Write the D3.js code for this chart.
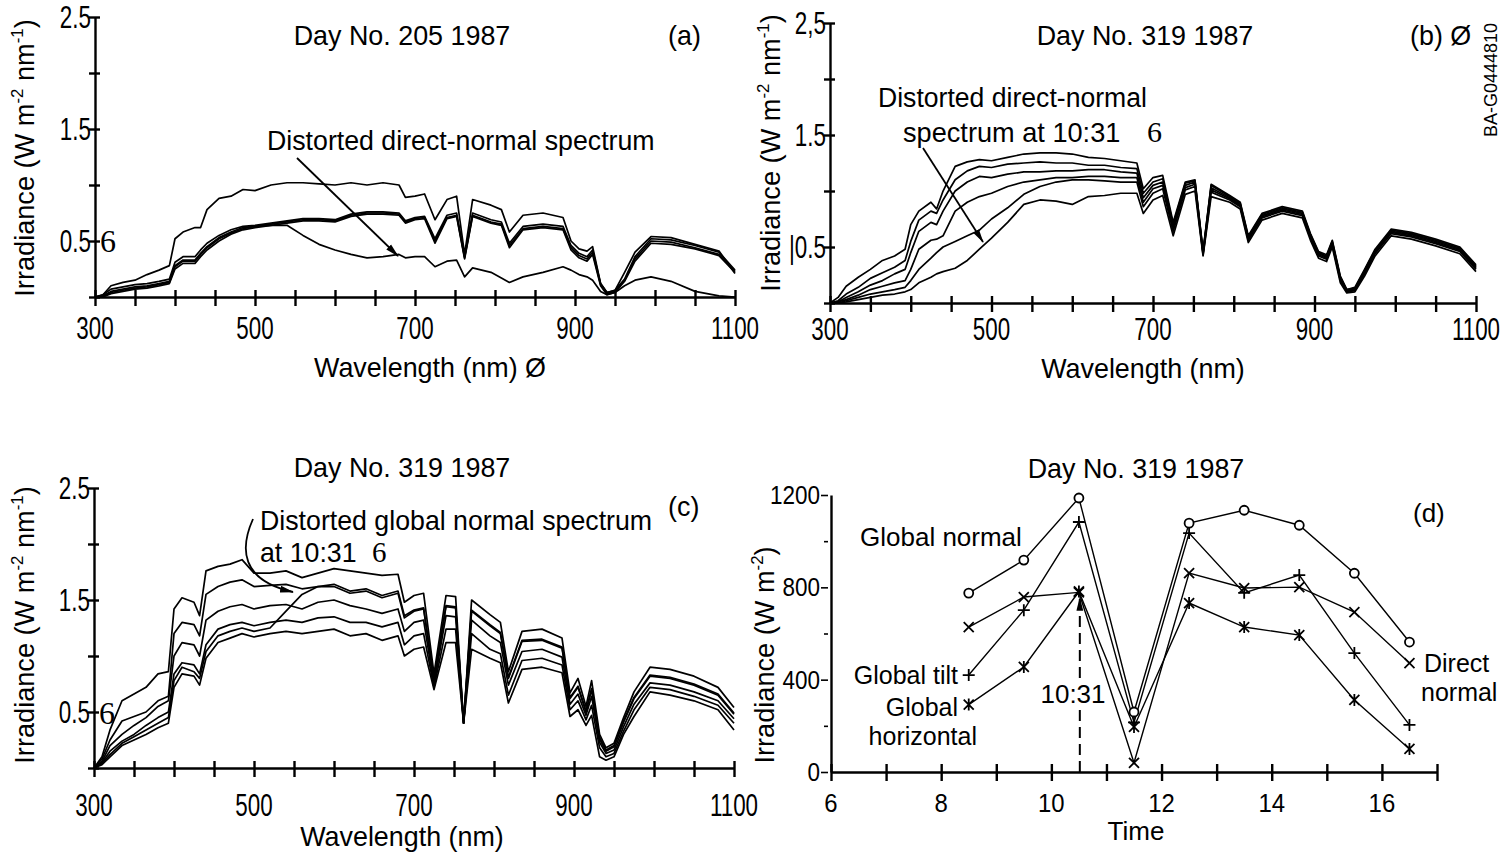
<!DOCTYPE html>
<html>
<head>
<meta charset="utf-8">
<script src="https://cdn.jsdelivr.net/npm/d3@7"></script>
<style>
  html, body { margin: 0; padding: 0; background: #fff; }
  svg { display: block; }
  text { fill: #000; }
</style>
</head>
<body>
<svg id="fig" width="1502" height="854"></svg>
<script>
// wavelength grid (nm) shared by the three spectrum panels
const wl = [300,310,320,335,350, 365,380,393,400,410, 425,432,440,455,470, 485,500,520,540,560,
            580,600,620,640,660, 680,688,700,712,725, 740,752,762,772,795, 808,818,835,860,885,
            895,905,915,922,932, 940,950,962,975,995, 1020,1050,1080,1100];

// (a) day 205 -- top curve, bundle of three, distorted direct-normal
const a205Top = [0,0.02,0.1,0.13,0.15, 0.2,0.24,0.28,0.52,0.58, 0.62,0.62,0.78,0.88,0.9, 0.96,0.95,1.0,1.02,1.02,
                 1.01,1.0,1.02,1.0,1.02, 1.0,0.89,0.9,0.92,0.69, 0.87,0.9,0.38,0.87,0.82, 0.78,0.58,0.73,0.75,0.71,
                 0.5,0.43,0.41,0.45,0.12, 0.04,0.06,0.22,0.4,0.54, 0.53,0.47,0.41,0.21];
const a205Mid1 = [0,0,0.03,0.05,0.07, 0.08,0.1,0.12,0.25,0.3, 0.3,0.36,0.42,0.5,0.56, 0.6,0.62,0.64,0.66,0.68,
                  0.68,0.67,0.72,0.74,0.74, 0.73,0.66,0.69,0.7,0.48, 0.7,0.72,0.34,0.72,0.66, 0.64,0.44,0.6,0.62,0.6,
                  0.42,0.35,0.32,0.38,0.1, 0.02,0.04,0.14,0.32,0.48, 0.47,0.43,0.37,0.22];
const a205Mid2 = [0,0.01,0.05,0.07,0.09, 0.1,0.12,0.14,0.28,0.33, 0.33,0.39,0.45,0.53,0.58, 0.62,0.63,0.65,0.67,0.69,
                  0.69,0.68,0.73,0.75,0.75, 0.74,0.67,0.7,0.71,0.5, 0.71,0.73,0.35,0.73,0.67, 0.65,0.46,0.61,0.63,0.61,
                  0.44,0.37,0.34,0.4,0.11, 0.03,0.05,0.15,0.34,0.5, 0.49,0.44,0.38,0.23];
const a205Mid3 = [0,0.02,0.07,0.09,0.11, 0.12,0.14,0.16,0.31,0.36, 0.36,0.42,0.48,0.55,0.6, 0.63,0.64,0.66,0.68,0.7,
                  0.7,0.69,0.74,0.76,0.76, 0.75,0.68,0.71,0.72,0.52, 0.73,0.75,0.36,0.75,0.69, 0.67,0.48,0.63,0.65,0.63,
                  0.46,0.39,0.36,0.42,0.12, 0.04,0.06,0.16,0.36,0.52, 0.51,0.46,0.4,0.24];
const a205Distorted = [0,0.01,0.04,0.06,0.08, 0.09,0.11,0.13,0.27,0.32, 0.32,0.38,0.44,0.52,0.57, 0.61,0.63,0.64,0.64,0.55,
                       0.47,0.42,0.38,0.35,0.36, 0.38,0.35,0.36,0.36,0.27, 0.32,0.33,0.18,0.26,0.22, 0.17,0.13,0.18,0.22,0.27,
                       0.24,0.2,0.18,0.15,0.05, 0.02,0.04,0.1,0.15,0.18, 0.14,0.05,0.01,0];

// (b) day 319 direct-normal spectra
const b319S1 = [0,0.05,0.15,0.23,0.3, 0.38,0.42,0.48,0.7,0.82, 0.9,0.84,1.0,1.22,1.26, 1.28,1.27,1.3,1.33,1.34,
                1.34,1.33,1.3,1.29,1.27, 1.25,1.02,1.12,1.14,0.72, 1.08,1.1,0.46,1.06,0.96, 0.9,0.6,0.8,0.86,0.82,
                0.62,0.46,0.43,0.56,0.24, 0.12,0.14,0.3,0.48,0.66, 0.63,0.57,0.5,0.34];
const b319S2 = [0,0.02,0.08,0.14,0.22, 0.27,0.32,0.38,0.55,0.74, 0.82,0.8,0.92,1.1,1.18, 1.22,1.21,1.24,1.25,1.26,
                1.25,1.25,1.23,1.23,1.21, 1.2,0.98,1.08,1.11,0.7, 1.07,1.09,0.46,1.05,0.95, 0.89,0.59,0.79,0.85,0.81,
                0.61,0.45,0.42,0.55,0.23, 0.12,0.13,0.29,0.47,0.65, 0.62,0.56,0.49,0.33];
const b319S3 = [0,0.01,0.05,0.1,0.16, 0.2,0.26,0.3,0.45,0.64, 0.72,0.7,0.82,1.0,1.08, 1.13,1.12,1.15,1.17,1.17,
                1.18,1.18,1.19,1.19,1.17, 1.16,0.94,1.05,1.08,0.68, 1.05,1.08,0.45,1.03,0.94, 0.88,0.58,0.78,0.84,0.8,
                0.6,0.44,0.41,0.54,0.22, 0.11,0.12,0.28,0.46,0.64, 0.61,0.55,0.48,0.32];
const b319S4 = [0,0.01,0.03,0.07,0.12, 0.15,0.18,0.2,0.3,0.48, 0.56,0.57,0.6,0.82,0.9, 0.95,0.98,1.04,1.08,1.1,
                1.12,1.12,1.13,1.13,1.12, 1.12,0.9,1.02,1.05,0.66, 1.03,1.06,0.44,1.01,0.93, 0.87,0.57,0.77,0.83,0.79,
                0.59,0.43,0.4,0.53,0.21, 0.11,0.12,0.27,0.45,0.63, 0.6,0.54,0.47,0.31];
const b319S5 = [0,0,0.02,0.05,0.08, 0.1,0.12,0.14,0.2,0.3, 0.4,0.45,0.5,0.55,0.6, 0.65,0.75,0.85,0.97,1.04,
                1.08,1.1,1.1,1.09,1.08, 1.08,0.86,0.98,1.02,0.64, 1.01,1.04,0.43,0.99,0.92, 0.86,0.56,0.76,0.82,0.78,
                0.58,0.42,0.39,0.52,0.2, 0.1,0.11,0.26,0.44,0.62, 0.59,0.53,0.46,0.3];
const b319Distorted = [0,0,0.01,0.03,0.05, 0.07,0.08,0.1,0.12,0.18, 0.23,0.26,0.28,0.31,0.38, 0.48,0.58,0.72,0.88,0.92,
                       0.91,0.88,0.95,0.96,0.98, 0.98,0.8,0.92,0.96,0.6, 0.97,1.0,0.42,0.95,0.9, 0.84,0.54,0.74,0.8,0.76,
                       0.56,0.4,0.37,0.5,0.18, 0.09,0.1,0.24,0.42,0.6, 0.57,0.51,0.44,0.28];

// (c) day 319 global-normal spectra
const c319S1 = [0,0.1,0.34,0.6,0.66, 0.72,0.84,0.86,1.42,1.52, 1.48,1.36,1.76,1.8,1.82, 1.86,1.74,1.74,1.76,1.7,
                1.74,1.78,1.76,1.74,1.72, 1.73,1.48,1.54,1.56,0.84, 1.54,1.53,0.4,1.5,1.37, 1.3,0.86,1.22,1.24,1.16,
                0.67,0.8,0.55,0.78,0.3, 0.18,0.22,0.45,0.68,0.9, 0.88,0.82,0.72,0.54];
const c319S2 = [0,0.08,0.25,0.42,0.46, 0.5,0.6,0.64,1.2,1.3, 1.28,1.18,1.55,1.62,1.66, 1.68,1.62,1.63,1.64,1.6,
                1.62,1.62,1.56,1.58,1.52, 1.56,1.34,1.4,1.42,0.78, 1.44,1.43,0.4,1.4,1.27, 1.2,0.8,1.13,1.14,1.07,
                0.62,0.72,0.5,0.7,0.26, 0.15,0.19,0.41,0.62,0.82, 0.8,0.74,0.65,0.48];
const c319S3 = [0,0.06,0.2,0.3,0.38, 0.45,0.55,0.6,1.0,1.12, 1.1,1.0,1.32,1.4,1.44, 1.46,1.42,1.45,1.46,1.42,
                1.48,1.5,1.45,1.42,1.38, 1.42,1.22,1.3,1.32,0.74, 1.36,1.35,0.4,1.32,1.18, 1.12,0.74,1.04,1.06,0.99,
                0.57,0.66,0.47,0.64,0.23, 0.13,0.16,0.37,0.57,0.76, 0.74,0.68,0.6,0.44];
const c319S4 = [0,0.05,0.15,0.24,0.3, 0.38,0.45,0.5,0.84,0.94, 0.92,0.84,1.1,1.24,1.28, 1.3,1.27,1.3,1.32,1.3,
                1.34,1.35,1.3,1.3,1.26, 1.3,1.1,1.18,1.2,0.72, 1.24,1.24,0.4,1.2,1.06, 1.02,0.65,0.96,0.98,0.92,
                0.52,0.6,0.43,0.56,0.18, 0.1,0.13,0.33,0.52,0.72, 0.7,0.64,0.56,0.4];
const c319S5 = [0,0.03,0.1,0.2,0.25, 0.3,0.36,0.4,0.72,0.84, 0.82,0.74,0.98,1.12,1.16, 1.2,1.17,1.2,1.22,1.2,
                1.22,1.24,1.18,1.2,1.14, 1.18,1.0,1.06,1.08,0.7, 1.12,1.12,0.4,1.06,0.98, 0.94,0.58,0.88,0.9,0.85,
                0.46,0.52,0.38,0.47,0.1, 0.07,0.1,0.3,0.46,0.68, 0.65,0.6,0.52,0.34];
const c319Distorted = [0,0.04,0.12,0.22,0.28, 0.34,0.4,0.45,0.78,0.9, 0.86,0.8,1.04,1.18,1.22, 1.25,1.22,1.25,1.4,1.55,
                       1.62,1.64,1.58,1.6,1.54, 1.58,1.36,1.41,1.43,0.8, 1.45,1.44,0.41,1.41,1.28, 1.21,0.81,1.14,1.15,1.08,
                       0.63,0.73,0.51,0.71,0.27, 0.16,0.2,0.42,0.63,0.83, 0.81,0.75,0.66,0.49];

// (d) day 319 broadband irradiance (W m-2) at half hours
const hours = [8.5, 9.5, 10.5, 11.5, 12.5, 13.5, 14.5, 15.5, 16.5];
const globalNormal = [775, 918, 1187, 260, 1078, 1134, 1069, 861, 563];
const directNormal = [628, 758, 778, 40, 862, 797, 801, 693, 472];
const globalTilt = [420, 701, 1083, 215, 1035, 776, 853, 515, 204];
const globalHorizontal = [292, 455, 782, 195, 732, 628, 593, 312, 100];

// ticks
const wlTicks = d3.range(300, 1101, 50);
const wlLabels = [300, 500, 700, 900, 1100];
const irrTicks = [0, 0.5, 1, 1.5, 2, 2.5];
const irrLabelVals = [0.5, 1.5, 2.5];
const timeTicks = d3.range(6, 18, 1);
const timeLabels = [6, 8, 10, 12, 14, 16];
const wTicks = [0, 200, 400, 600, 800, 1000, 1200];
const wLabels = [0, 400, 800, 1200];

const SANS = "'Liberation Sans', Arial, Helvetica, sans-serif";
const SERIF = "'Liberation Serif', 'DejaVu Serif', 'Times New Roman', serif";

const svg = d3.select("#fig");
svg.append("rect").attr("width", 1502).attr("height", 854).attr("fill", "#fff");

svg.append("defs").append("marker")
  .attr("id", "arr").attr("viewBox", "0 0 14 8")
  .attr("markerWidth", 14).attr("markerHeight", 8)
  .attr("refX", 13).attr("refY", 4).attr("orient", "auto")
  .attr("markerUnits", "userSpaceOnUse")
  .append("path").attr("d", "M0,0.6L14,4L0,7.4z").attr("fill", "#000");

function label(g, x, y, s, o = {}) {
  let tr = `translate(${x},${y})`;
  if (o.rot) tr += ` rotate(${o.rot})`;
  tr += ` scale(${o.sx || 1},1)`;
  return g.append("text").attr("transform", tr)
    .attr("font-family", o.serif ? SERIF : SANS)
    .attr("font-size", o.size || 28)
    .attr("text-anchor", o.anchor || "start")
    .text(s);
}

// rotated "Irradiance (W m-2 nm-1)" with superscripts
function unitLabel(g, x, y, perNm, size) {
  const t = g.append("text")
    .attr("transform", `translate(${x},${y}) rotate(-90) scale(0.97,1)`)
    .attr("font-family", SANS).attr("font-size", size).attr("text-anchor", "middle");
  const up = size * 0.4, small = size * 0.62;
  t.append("tspan").text("Irradiance (W m");
  t.append("tspan").attr("dy", -up).attr("font-size", small).text("-2");
  if (perNm) {
    t.append("tspan").attr("dy", up).text(" nm");
    t.append("tspan").attr("dy", -up).attr("font-size", small).text("-1");
  }
  t.append("tspan").attr("dy", up).text(")");
}

function styleAxis(ax) {
  ax.selectAll(".domain, .tick line").attr("stroke", "#000").attr("stroke-width", 2.4);
  ax.selectAll(".tick text").remove();
}

function spectrumPanel(p) {
  const g = svg.append("g");
  const x = d3.scaleLinear().domain([300, 1100]).range(p.xr);
  const y = d3.scaleLinear().domain([0, 2.5]).range(p.yr);

  const xa = g.append("g").attr("transform", `translate(0,${p.yr[0]})`)
    .call(d3.axisBottom(x).tickValues(wlTicks).tickSize(9).tickSizeOuter(0));
  xa.selectAll(".tick line").attr("y1", -7);
  styleAxis(xa);

  const ya = g.append("g").attr("transform", `translate(${p.xr[0]},0)`)
    .call(d3.axisLeft(y).tickValues(irrTicks).tickSize(6).tickSizeOuter(0));
  ya.selectAll(".tick line").attr("x1", 5);
  styleAxis(ya);

  const line = d3.line().x((d, i) => x(wl[i])).y(d => y(d));
  p.series.forEach(s => {
    g.append("path").attr("d", line(s))
      .attr("fill", "none").attr("stroke", "#000")
      .attr("stroke-width", 1.7).attr("stroke-linejoin", "round");
  });

  wlLabels.forEach(v => label(g, x(v), p.xLabY, v, { anchor: "middle", size: 32, sx: 0.7 }));
  irrLabelVals.forEach((v, i) => label(g, p.xr[0] - 4, y(v) + 11, p.yLabels[i], { anchor: "end", size: 32, sx: 0.7 }));
  return { g, x, y };
}

// ---------- (a)
const pa = spectrumPanel({
  xr: [95, 735], yr: [297, 17], xLabY: 339,
  yLabels: ["0.5", "1.5", "2.5"],
  series: [a205Top, a205Mid1, a205Mid2, a205Mid3, a205Distorted]
});
label(pa.g, 100, 252, "6", { size: 32, serif: true });
label(pa.g, 402, 45, "Day No. 205 1987", { anchor: "middle", sx: 0.96 });
label(pa.g, 668, 45, "(a)", { sx: 0.96 });
label(pa.g, 267, 150, "Distorted direct-normal spectrum", { sx: 0.955 });
label(pa.g, 430, 377, "Wavelength (nm) \u00d8", { anchor: "middle", sx: 0.96 });
unitLabel(pa.g, 34, 158, true, 28);
pa.g.append("line").attr("x1", 297).attr("y1", 158).attr("x2", 398).attr("y2", 256)
  .attr("stroke", "#000").attr("stroke-width", 1.8).attr("marker-end", "url(#arr)");

// ---------- (b)
const pb = spectrumPanel({
  xr: [830, 1476], yr: [303, 23], xLabY: 340,
  yLabels: ["|0.5", "1.5", "2,5"],
  series: [b319S1, b319S2, b319S3, b319S4, b319S5, b319Distorted]
});
label(pb.g, 1145, 45, "Day No. 319 1987", { anchor: "middle", sx: 0.96 });
label(pb.g, 1410, 45, "(b) \u00d8", { sx: 0.96 });
label(pb.g, 878, 107, "Distorted direct-normal", { sx: 0.95 });
label(pb.g, 903, 142, "spectrum at 10:31", { sx: 0.97 });
label(pb.g, 1147, 142, "6", { size: 30, serif: true });
label(pb.g, 1143, 378, "Wavelength (nm)", { anchor: "middle", sx: 0.96 });
unitLabel(pb.g, 780, 153, true, 28);
label(pb.g, 1497, 80, "BA-G0444810", { rot: -90, anchor: "middle", size: 18 });
pb.g.append("line").attr("x1", 923).attr("y1", 148).attr("x2", 983).attr("y2", 242)
  .attr("stroke", "#000").attr("stroke-width", 1.8).attr("marker-end", "url(#arr)");

// ---------- (c)
const pc = spectrumPanel({
  xr: [94, 734], yr: [768, 488], xLabY: 816,
  yLabels: ["0.5", "1.5", "2.5"],
  series: [c319S1, c319S2, c319S3, c319S4, c319S5, c319Distorted]
});
label(pc.g, 99, 724, "6", { size: 32, serif: true });
label(pc.g, 402, 477, "Day No. 319 1987", { anchor: "middle", sx: 0.96 });
label(pc.g, 668, 516, "(c)", { sx: 0.96 });
label(pc.g, 260, 530, "Distorted global normal spectrum", { size: 27, sx: 0.99 });
label(pc.g, 260, 562, "at 10:31", { size: 27, sx: 0.99 });
label(pc.g, 372, 562, "6", { size: 29, serif: true });
label(pc.g, 402, 846, "Wavelength (nm)", { anchor: "middle", sx: 0.96 });
unitLabel(pc.g, 34, 625, true, 28);
pc.g.append("path").attr("d", "M253,519 C240,548 240,580 293,592")
  .attr("fill", "none").attr("stroke", "#000").attr("stroke-width", 1.8).attr("marker-end", "url(#arr)");

// ---------- (d)
const gd = svg.append("g");
const xt = d3.scaleLinear().domain([6, 17]).range([831, 1437]);
const yt = d3.scaleLinear().domain([0, 1200]).range([772, 495]);

const xda = gd.append("g").attr("transform", `translate(0,${yt(0)})`)
  .call(d3.axisBottom(xt).tickValues(timeTicks).tickSize(9).tickSizeOuter(0));
xda.selectAll(".tick line").attr("y1", -8);
styleAxis(xda);

const yda = gd.append("g").attr("transform", `translate(${xt(6)},0)`)
  .call(d3.axisLeft(yt).tickValues(wTicks).tickSize(10).tickSizeOuter(0));
yda.selectAll(".tick line").attr("x1", -3)
  .attr("x2", d => (wLabels.includes(d) ? -10 : -7));
styleAxis(yda);
yda.selectAll(".tick line").attr("stroke-width", 1.6);

timeLabels.forEach(v => label(gd, xt(v), 812, v, { anchor: "middle", size: 26, sx: 0.92 }));
wLabels.forEach(v => label(gd, 820, yt(v) + 9, v, { anchor: "end", size: 25, sx: 0.9 }));

const tline = d3.line().x((d, i) => xt(hours[i])).y(d => yt(d));
const series = [
  { v: globalNormal, m: "o" },
  { v: directNormal, m: "x" },
  { v: globalTilt, m: "+" },
  { v: globalHorizontal, m: "*" }
];
series.forEach(s => {
  gd.append("path").attr("d", tline(s.v)).attr("fill", "none")
    .attr("stroke", "#000").attr("stroke-width", 1.4);
});
const markPath = {
  "x": "M-5,-5L5,5M-5,5L5,-5",
  "+": "M-6,0L6,0M0,-6L0,6",
  "*": "M-5,-5L5,5M-5,5L5,-5M0,-6L0,6"
};
series.forEach(s => {
  s.v.forEach((v, i) => {
    const cx = xt(hours[i]), cy = yt(v);
    if (s.m === "o") {
      gd.append("circle").attr("cx", cx).attr("cy", cy).attr("r", 4.5)
        .attr("fill", "#fff").attr("stroke", "#000").attr("stroke-width", 1.8);
    } else {
      gd.append("path").attr("transform", `translate(${cx},${cy})`).attr("d", markPath[s.m])
        .attr("stroke", "#000").attr("stroke-width", 1.8).attr("fill", "none");
    }
  });
});

// 10:31 marker
const x1031 = xt(10 + 31 / 60);
gd.append("line").attr("x1", x1031).attr("x2", x1031).attr("y1", yt(0)).attr("y2", 708)
  .attr("stroke", "#000").attr("stroke-width", 2).attr("stroke-dasharray", "11,6");
gd.append("line").attr("x1", x1031).attr("x2", x1031).attr("y1", 678).attr("y2", yt(755))
  .attr("stroke", "#000").attr("stroke-width", 2).attr("stroke-dasharray", "11,6")
  .attr("marker-end", "url(#arr)");
label(gd, 1073, 703, "10:31", { anchor: "middle", size: 26 });

label(gd, 1136, 478, "Day No. 319 1987", { anchor: "middle", sx: 0.96 });
label(gd, 1413, 522, "(d)", { size: 26 });
label(gd, 860, 546, "Global normal", { size: 26 });
label(gd, 958, 684, "Global tilt", { anchor: "end", size: 25 });
label(gd, 958, 716, "Global", { anchor: "end", size: 25 });
label(gd, 977, 745, "horizontal", { anchor: "end", size: 25 });
label(gd, 1424, 672, "Direct", { size: 25 });
label(gd, 1421, 701, "normal", { size: 25 });
label(gd, 1136, 840, "Time", { anchor: "middle", size: 26 });
unitLabel(gd, 774, 655, false, 28);
</script>
</body>
</html>
